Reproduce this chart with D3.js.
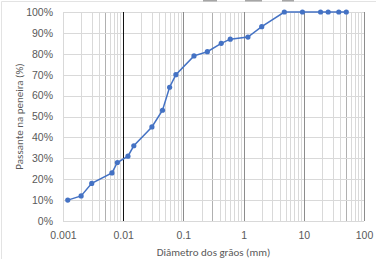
<!DOCTYPE html>
<html>
<head>
<meta charset="utf-8">
<script src="https://cdn.jsdelivr.net/npm/d3@7"></script>
<style>
  html, body { margin: 0; padding: 0; background: #fff; }
  svg { display: block; font-family: Carlito, Lato, "Liberation Sans", sans-serif; }
  .tick text { fill: #595959; font-size: 10.5px; }
  .label { fill: #595959; font-size: 11px; }
</style>
</head>
<body>
<svg id="chart" width="377" height="260"></svg>
<script>
// grain size distribution (diameter in mm, % passing)
const diameters = [0.0012, 0.002, 0.003, 0.0065, 0.008, 0.012, 0.015, 0.03, 0.045, 0.059,
  0.075, 0.15, 0.25, 0.425, 0.6, 1.18, 2.0, 4.75, 9.5, 19, 25.4, 38.1, 50.8];
const passing = [10, 12, 18, 23, 28, 31, 36, 45, 53, 64,
  70, 79, 81, 85, 87, 88, 93, 100, 100, 100, 100, 100, 100];
const xTicks = [0.001, 0.01, 0.1, 1, 10, 100];
const xTickLabels = ['0.001', '0.01', '0.1', '1', '10', '100'];
const yTicks = [0, 10, 20, 30, 40, 50, 60, 70, 80, 90, 100];

const data = diameters.map((d, i) => ({ d, p: passing[i] }));

const svg = d3.select('#chart');
const margin = { top: 12, right: 13, bottom: 39, left: 63 };
const width = 377 - margin.left - margin.right;
const height = 260 - margin.top - margin.bottom;

// outer chart border (partially visible)
svg.append('path')
  .attr('d', 'M1.5,259 V1.5 H376')
  .attr('fill', 'none')
  .attr('stroke', '#e3e3e3');
svg.selectAll('.handle')
  .data([[203, 14], [245, 17], [282, 12]])
  .enter().append('rect')
  .attr('x', d => d[0]).attr('y', 0)
  .attr('width', d => d[1]).attr('height', 1.5)
  .attr('fill', '#a6a6a6');

const g = svg.append('g')
  .attr('transform', `translate(${margin.left},${margin.top})`);

const x = d3.scaleLog().domain([0.001, 100]).range([0, width]);
const y = d3.scaleLinear().domain([0, 100]).range([height, 0]);

// vertical log gridlines
const minor = [];
for (let e = -3; e < 2; e += 1) {
  for (let k = 2; k <= 9; k += 1) minor.push(k * Math.pow(10, e));
}
const darkMinor = [0.005, 0.3, 50];
const px = v => Math.round(x(v)) + 0.5;

g.append('g').selectAll('line')
  .data(minor)
  .enter().append('line')
  .attr('x1', px).attr('x2', px)
  .attr('y1', 0).attr('y2', height)
  .attr('stroke', v => darkMinor.some(m => Math.abs(m - v) < 1e-9) ? '#b0b0b0' : '#d9d9d9');

g.append('g').selectAll('line')
  .data(yTicks)
  .enter().append('line')
  .attr('x1', 0).attr('x2', width)
  .attr('y1', v => Math.round(y(v)) + 0.5).attr('y2', v => Math.round(y(v)) + 0.5)
  .attr('stroke', '#d9d9d9');

g.append('g').selectAll('line')
  .data(xTicks)
  .enter().append('line')
  .attr('x1', px).attr('x2', px)
  .attr('y1', 0).attr('y2', height)
  .attr('stroke', v => v === 0.01 ? '#111' : (v === 0.001 ? '#d9d9d9' : '#8c8c8c'));

// axes
const xAxis = d3.axisBottom(x)
  .tickValues(xTicks)
  .tickFormat((d, i) => xTickLabels[i])
  .tickSize(0)
  .tickPadding(11);
const yAxis = d3.axisLeft(y)
  .tickValues(yTicks)
  .tickFormat(d => `${d}%`)
  .tickSize(0)
  .tickPadding(10);

g.append('g')
  .attr('transform', `translate(0,${height})`)
  .call(xAxis)
  .call(s => s.select('.domain').remove());
g.append('g')
  .call(yAxis)
  .call(s => s.select('.domain').remove());

// curve
const line = d3.line().x(d => x(d.d)).y(d => y(d.p));
g.append('path')
  .datum(data)
  .attr('fill', 'none')
  .attr('stroke', '#4472c4')
  .attr('stroke-width', 1.5)
  .attr('d', line);
g.selectAll('.pt')
  .data(data)
  .enter().append('circle')
  .attr('class', 'pt')
  .attr('cx', d => x(d.d))
  .attr('cy', d => y(d.p))
  .attr('r', 2.6)
  .attr('fill', '#4472c4');

// axis titles
svg.append('text')
  .attr('class', 'label')
  .attr('text-anchor', 'middle')
  .attr('x', margin.left + width / 2)
  .attr('y', 256)
  .text('Diâmetro dos grãos (mm)');
svg.append('text')
  .attr('class', 'label')
  .attr('text-anchor', 'middle')
  .attr('transform', `translate(23,${margin.top + height / 2}) rotate(-90)`)
  .text('Passante na peneira (%)');
</script>
</body>
</html>
